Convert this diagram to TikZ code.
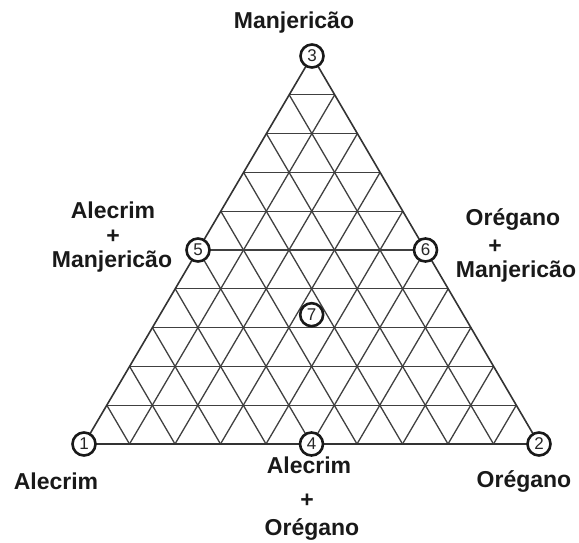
\documentclass[tikz,border=0pt]{standalone}
\usepackage{fontspec}
\setmainfont{Liberation Sans}
\usetikzlibrary{calc}
\begin{document}
\begin{tikzpicture}[x=1pt,y=-1pt,
  gridline/.style={draw=black!75,line width=1.3pt},
  edgeline/.style={draw=black!80,line width=1.6pt,line join=round},
  vnum/.style={circle,draw=black!90,fill=white,line width=2.6pt,minimum size=23pt,inner sep=0pt,font=\fontsize{17}{17}\selectfont,text=black!85},
  lbl/.style={anchor=base,inner sep=0pt,font=\fontsize{23}{26}\selectfont\bfseries,text=black!90}]
\useasboundingbox (0,0) rectangle (579,542);
\coordinate (A) at (84,444);
\coordinate (B) at (539,444);
\coordinate (C) at (312,56);
% grid
\foreach \k in {1,...,9}{
  \draw[gridline] ($(A)!\k/10!(C)$) -- ($(B)!\k/10!(C)$);
  \draw[gridline] ($(A)!\k/10!(B)$) -- ($(C)!\k/10!(B)$);
  \draw[gridline] ($(B)!\k/10!(A)$) -- ($(C)!\k/10!(A)$);
}
\draw[edgeline] (A) -- (B) -- (C) -- cycle;
% numbered points
\node[vnum] (v1) at (A) {1};
\node[vnum] (v2) at (B) {2};
\node[vnum] (v3) at (C) {3};
\node[vnum] (v4) at ($(A)!0.5!(B)$) {4};
\node[vnum] (v5) at ($(A)!0.5!(C)$) {5};
\node[vnum] (v6) at ($(B)!0.5!(C)$) {6};
\node[vnum] (v7) at ($(A)!0.5!(B)!1/3!(C)$) {7};
% labels
\node[lbl] (t3) at (294,28) {Manjericão};
\node[lbl] (t5a) at (113,218) {Alecrim};
\node[lbl] (t5b) at (113,243) {+};
\node[lbl] (t5c) at (112,267) {Manjericão};
\node[lbl] (t6a) at (513,225) {Orégano};
\node[lbl] (t6b) at (495,253) {+};
\node[lbl] (t6c) at (516,277) {Manjericão};
\node[lbl] (t1) at (56,489) {Alecrim};
\node[lbl] (t4a) at (309,473) {Alecrim};
\node[lbl] (t4b) at (307,507) {+};
\node[lbl] (t4c) at (312,535) {Orégano};
\node[lbl] (t2) at (524,487) {Orégano};
\end{tikzpicture}
\end{document}
